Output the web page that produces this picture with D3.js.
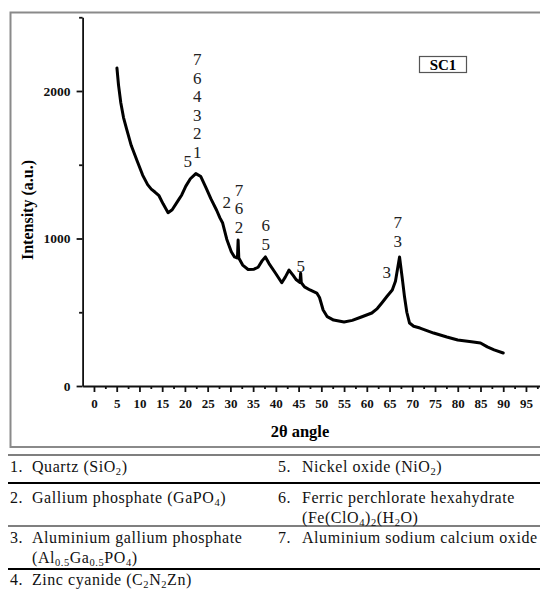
<!DOCTYPE html>
<html><head><meta charset="utf-8">
<script src="https://cdn.jsdelivr.net/npm/d3@7"></script>
<style>
body{margin:0;background:#fff;}
svg{display:block;}
svg text{font-family:"Liberation Serif","Times New Roman",serif;}
</style></head>
<body><svg id="chart" width="540" height="595"></svg>
<script>
/* ---------- data ---------- */
const angle=[5.05,5.4,5.9,6.5,7.2,8.2,9.5,10.7,11.8,12.6,13.4,14.3,15.2,16.3,17.2,18.6,19.3,20.2,21.2,22.4,
  23.5,24.7,25.7,27.0,27.7,28.3,29.2,30.2,30.9,31.55,31.7,31.85,32.7,33.9,35.2,36.1,37.0,37.7,38.5,39.9,
  41.3,42.1,42.9,43.8,44.5,45.3,45.45,45.6,46.3,47.5,49.0,49.6,50.4,51.3,52.7,55.0,56.8,58.8,61.1,62.3,
  63.3,64.5,65.6,66.3,67.2,67.8,68.3,68.8,69.4,70.3,71.7,74.7,77.6,80.0,83.0,85.0,86.5,88.0,90.0];
const intensity=[2156,2040,1920,1820,1740,1630,1525,1430,1365,1335,1315,1290,1235,1175,1195,1262,1295,1355,1405,1440,
  1420,1340,1270,1190,1140,1105,995,910,875,868,990,868,820,790,792,805,850,875,830,766,
  700,740,786,750,720,702,765,700,672,651,630,600,515,470,447,434,445,468,495,525,
  563,610,651,710,875,730,603,500,427,405,393,359,332,312,300,292,265,245,224];

const xTickLabels=[0,5,10,15,20,25,30,35,40,45,50,55,60,65,70,75,80,85,90,95];
const xMinorTicks=[2.5,7.5,12.5,17.5,22.5,27.5,32.5,37.5,42.5,47.5,52.5,57.5,62.5,67.5,72.5,77.5,82.5,87.5,92.5,97.5];
const yTickLabels=[0,1000,2000];
const yMinorTicks=[500,1500,2500];

/* peak markers: angle, intensity at bottom line, digits top→bottom */
const peakAngle=[22.7,20.6,29.2,31.9,37.8,45.5,66.8,64.4];
const peakBase=[1546,1485,1207,1037,922,773,942,732];
const peakDigits=[["7","6","4","3","2","1"],["5"],["2"],["7","6","2"],["6","5"],["5"],["7","3"],["3"]];

const phaseNo=[1,2,3,4,5,6,7];
const phaseName=[
  ["Quartz (SiO_{2})"],
  ["Gallium phosphate (GaPO_{4})"],
  ["Aluminium gallium phosphate","(Al_{0.5}Ga_{0.5}PO_{4})"],
  ["Zinc cyanide (C_{2}N_{2}Zn)"],
  ["Nickel oxide (NiO_{2})"],
  ["Ferric perchlorate hexahydrate","(Fe(ClO_{4})_{2}(H_{2}O)"],
  ["Aluminium sodium calcium oxide"]
];

/* ---------- layout ---------- */
const svg=d3.select("#chart");
const x=d3.scaleLinear().domain([-2.5,100]).range([82.6,548.7]);
const y=d3.scaleLinear().domain([0,2500]).range([386,17.25]);

// outer frame
svg.append("rect").attr("x",10.5).attr("y",12.5).attr("width",560).attr("height",434.5)
   .attr("fill","none").attr("stroke","#8a8a8a").attr("stroke-width",2);

function styleAxis(g){
  g.attr("font-family",null).attr("font-size",null);
  g.selectAll("path,line").attr("stroke","#111").attr("stroke-width",1.8);
  g.selectAll("text").attr("font-weight","bold").attr("fill","#111");
}

// x axis
svg.append("g").attr("transform","translate(0,386)")
   .call(d3.axisBottom(x).tickValues(xMinorTicks).tickSize(3).tickFormat(""))
   .call(g=>g.select(".domain").remove()).call(styleAxis);
svg.append("g").attr("transform","translate(0,386)")
   .call(d3.axisBottom(x).tickValues(xTickLabels).tickSize(6).tickSizeOuter(0).tickPadding(7).tickFormat(d3.format("d")))
   .call(styleAxis).selectAll("text").attr("font-size",13);

// y axis
svg.append("g").attr("transform","translate(82.6,0)")
   .call(d3.axisLeft(y).tickValues(yMinorTicks).tickSize(3.5).tickFormat(""))
   .call(g=>g.select(".domain").remove()).call(styleAxis);
svg.append("g").attr("transform","translate(82.6,0)")
   .call(d3.axisLeft(y).tickValues(yTickLabels).tickSize(6).tickSizeOuter(0).tickPadding(6).tickFormat(d3.format("d")))
   .call(styleAxis).selectAll("text").attr("font-size",13.5);

// axis titles
svg.append("text").attr("x",300).attr("y",437).attr("text-anchor","middle")
   .attr("font-weight","bold").attr("font-size",16.5).text("2θ angle");
svg.append("text").attr("transform","translate(33,210) rotate(-90)").attr("text-anchor","middle")
   .attr("font-weight","bold").attr("font-size",16).text("Intensity (a.u.)");

// sample box
svg.append("rect").attr("x",419.5).attr("y",56.5).attr("width",47).attr("height",16)
   .attr("fill","#fff").attr("stroke","#555").attr("stroke-width",1.2);
svg.append("text").attr("x",443).attr("y",70).attr("text-anchor","middle")
   .attr("font-weight","bold").attr("font-size",15).text("SC1");

// pattern
const pts=angle.map((a,i)=>[a,intensity[i]]);
svg.append("path").datum(pts)
   .attr("d",d3.line().x(d=>x(d[0])).y(d=>y(d[1])))
   .attr("fill","none").attr("stroke","#000").attr("stroke-width",3)
   .attr("stroke-linejoin","round").attr("stroke-linecap","round");

// peak labels
const lh=18.6;
peakAngle.forEach((a,i)=>{
  const digs=peakDigits[i], n=digs.length;
  svg.append("g").selectAll("text").data(digs).join("text")
     .attr("x",x(a)).attr("y",(d,j)=>y(peakBase[i])-(n-1-j)*lh)
     .attr("text-anchor","middle").attr("font-size",17).attr("fill","#222").text(d=>d);
});

/* ---------- phase table ---------- */
function richText(sel,str){
  const parts=str.split(/(_\{[^}]*\})/).filter(s=>s.length);
  let sub=false;
  parts.forEach(p=>{
    if(p.startsWith("_{")){
      sel.append("tspan").attr("font-size",10.5).attr("dy",sub?0:3).text(p.slice(2,-1));
      sub=true;
    }else{
      sel.append("tspan").attr("dy",sub?-3:0).text(p);
      sub=false;
    }
  });
}

const tbl=svg.append("g").attr("font-size",16).attr("letter-spacing",0.55).attr("fill","#111");
[[455,1.2],[483,2.2],[526,1.2],[569,2.2]].forEach(([yy,w])=>{
  tbl.append("line").attr("x1",8).attr("x2",540).attr("y1",yy).attr("y2",yy)
     .attr("stroke","#000").attr("stroke-width",w);
});
const rowBase=[472,503,543,585];
const colX=[[10,32],[278,302]];
phaseNo.forEach((no,i)=>{
  const col=i<4?0:1, row=i<4?i:i-4;
  tbl.append("text").attr("x",colX[col][0]).attr("y",rowBase[row]).text(no+".");
  phaseName[i].forEach((ln,k)=>{
    const t=tbl.append("text").attr("x",colX[col][1]).attr("y",rowBase[row]+k*19.5);
    richText(t,ln);
  });
});
</script>
</body></html>
